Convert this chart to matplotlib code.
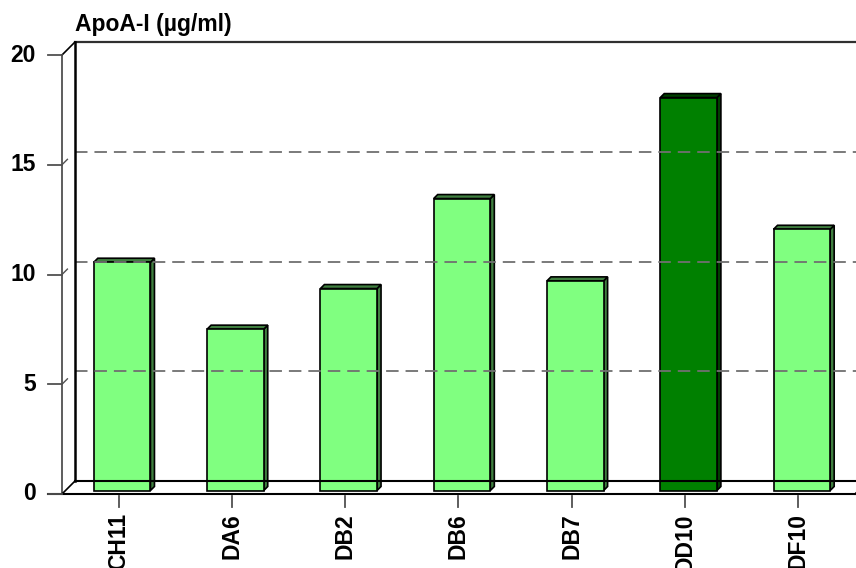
import matplotlib
matplotlib.use("Agg")
import matplotlib.pyplot as plt
from matplotlib.patches import Polygon
from matplotlib.transforms import IdentityTransform
import numpy as np

plt.rcParams['font.family'] = ['Liberation Sans', 'DejaVu Sans']
plt.rcParams['lines.scale_dashes'] = False

# ApoA-I concentration per clone
clones = ["CH11", "DA6", "DB2", "DB6", "DB7", "DD10", "DF10"]
apoa1 = [10.4, 7.35, 9.2, 13.3, 9.55, 17.9, 11.9]
highlight = "DD10"
yticks = [0, 5, 10, 15, 20]

DEPTH = 13.0          # wall depth in pixels (x and y)
BAR_FRONT = 3.5       # bar front face depth
BAR_BACK = 7.5        # bar back face depth
BAR_W = 0.5
FS = 16.5

fig = plt.figure(figsize=(8.56, 5.68), dpi=100)
W, H = 856, 568
# front plane of the plot box
ax = fig.add_axes([62 / W, (H - 494) / H, (855 - 62) / W, (494 - 55) / H])
ax.set_xlim(-0.5, len(clones) - 0.5)
ax.set_ylim(0, 20)
ax.axis("off")

ident = IdentityTransform()


def P(x, y, d=0.0):
    px, py = ax.transData.transform((x, y))
    return (px + d, py + d)


def line(pts, **kw):
    xs, ys = zip(*pts)
    ax.add_line(plt.Line2D(xs, ys, transform=ident, clip_on=False, **kw))


x1 = len(clones) - 0.5 + 0.3

# back wall gridlines
for v in yticks[1:-1]:
    line([P(-0.5, v, DEPTH), P(x1, v, DEPTH)], color="#707070", lw=1.3,
         dashes=(9, 5))
    # start of the side-wall gridline
    line([P(-0.5, v), P(-0.5, v, DEPTH)], color="#505050", lw=1.0,
         dashes=(6, 20))
line([P(-0.5, 20, DEPTH), P(x1, 20, DEPTH)], color="#303030", lw=1.6)

# walls
line([P(-0.5, 0, DEPTH), P(-0.5, 20, DEPTH)], color="black", lw=1.8)
line([P(-0.5, 0), P(-0.5, 20)], color="#505050", lw=1.3)
line([P(-0.5, 20), P(-0.5, 20, DEPTH)], color="black", lw=1.2)
line([P(-0.5, 0), P(-0.5, 0, DEPTH)], color="black", lw=1.2)
# floor
line([P(-0.5, 0, DEPTH), P(x1, 0, DEPTH)], color="black", lw=1.5)
fx, fy = P(-0.5, 0)
line([(fx - 14, fy), P(len(clones) - 0.5, 0)], color="black", lw=1.5)
line([P(len(clones) - 0.5, 0), P(len(clones) - 0.5, 0, DEPTH)],
     color="black", lw=1.2)

# y ticks
for v in yticks:
    px, py = P(-0.5, v)
    line([(px - 14, py), (px, py)], color="#505050", lw=1.3)
    ax.text(px - 26, py, str(v), transform=ident, ha="right", va="center",
            fontsize=FS, fontweight="bold")

# x ticks and labels
for i, name in enumerate(clones):
    px, py = P(i, 0)
    line([(px, py - 2), (px, py - 13)], color="#505050", lw=1.3)
    ax.text(px, py - 19, name, transform=ident, rotation=90, ha="center",
            va="top", fontsize=FS, fontweight="bold")

# bars
for i, (name, v) in enumerate(zip(clones, apoa1)):
    if name == highlight:
        face, shade = "#008000", "#004000"
    else:
        face, shade = "#80FF80", "#3F7F3F"
    l, r = i - BAR_W / 2, i + BAR_W / 2
    side = [P(r, 0, BAR_FRONT), P(r, 0, BAR_BACK), P(r, v, BAR_BACK), P(r, v, BAR_FRONT)]
    top = [P(l, v, BAR_FRONT), P(r, v, BAR_FRONT), P(r, v, BAR_BACK), P(l, v, BAR_BACK)]
    front = [P(l, 0, BAR_FRONT), P(r, 0, BAR_FRONT), P(r, v, BAR_FRONT), P(l, v, BAR_FRONT)]
    for pts, c in ((side, shade), (top, shade), (front, face)):
        ax.add_patch(Polygon(pts, closed=True, transform=ident, facecolor=c,
                             edgecolor="black", lw=1.2, clip_on=False))

fig.text(75 / W, 1 - 24 / H, "ApoA-I (µg/ml)", ha="left", va="center",
         fontsize=FS, fontweight="bold")

fig.savefig("out.png", dpi=100)
